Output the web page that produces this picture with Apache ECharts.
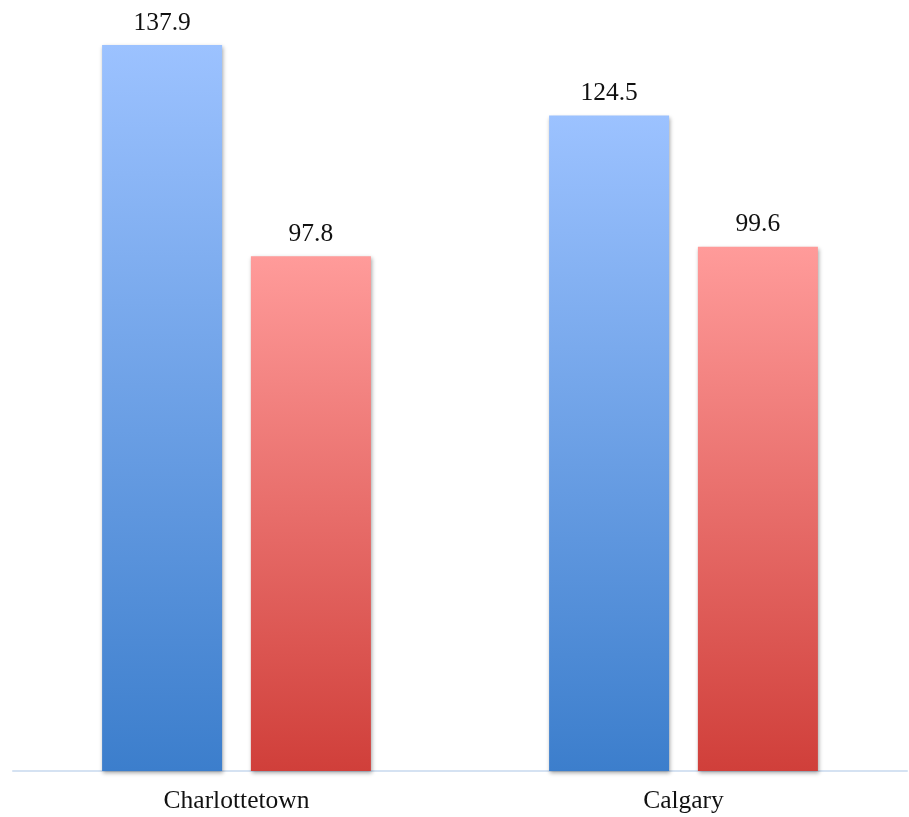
<!DOCTYPE html>
<html>
<head>
<meta charset="utf-8">
<script src="https://cdn.jsdelivr.net/npm/echarts@6/dist/echarts.min.js"></script>
<style>
html,body{margin:0;padding:0;background:#fff;}
#chart{width:909px;height:817px;}
</style>
</head>
<body>
<div id="chart"></div>
<script>
const categories = ['Charlottetown', 'Calgary'];
const seriesBlue = [137.9, 124.5];
const seriesRed = [97.8, 99.6];

const fontFam = '"Liberation Serif", "DejaVu Serif", serif';

function grad(top, bottom) {
  return new echarts.graphic.LinearGradient(0, 0, 0, 1, [
    { offset: 0, color: top },
    { offset: 1, color: bottom }
  ]);
}

const labelCfg = {
  show: true,
  position: 'top',
  distance: 9,
  color: '#111',
  fontFamily: fontFam,
  fontSize: 25.5,
  formatter: p => p.value.toFixed(1)
};

const chart = echarts.init(document.getElementById('chart'));
chart.setOption({
  animation: false,
  backgroundColor: '#fff',
  grid: { left: 13, right: 2, top: 34, bottom: 46, containLabel: false },
  xAxis: {
    type: 'category',
    data: categories,
    axisLine: { show: true, lineStyle: { color: '#D5E2F2', width: 2 } },
    axisTick: { show: false },
    axisLabel: { color: '#111', fontFamily: fontFam, fontSize: 25.5, margin: 17 }
  },
  yAxis: {
    type: 'value',
    min: 0,
    max: 140,
    show: false,
    splitLine: { show: false }
  },
  series: [
    {
      type: 'bar',
      data: seriesBlue,
      barWidth: 120,
      barGap: '24%',
      itemStyle: {
        color: grad('#9CC2FF', '#3C7ECC'),
        shadowColor: 'rgba(0,0,0,0.35)',
        shadowBlur: 4,
        shadowOffsetX: 1,
        shadowOffsetY: 2
      },
      label: labelCfg
    },
    {
      type: 'bar',
      data: seriesRed,
      barWidth: 120,
      itemStyle: {
        color: grad('#FF9B9A', '#D03F3A'),
        shadowColor: 'rgba(0,0,0,0.35)',
        shadowBlur: 4,
        shadowOffsetX: 1,
        shadowOffsetY: 2
      },
      label: labelCfg
    }
  ]
});
</script>
</body>
</html>
